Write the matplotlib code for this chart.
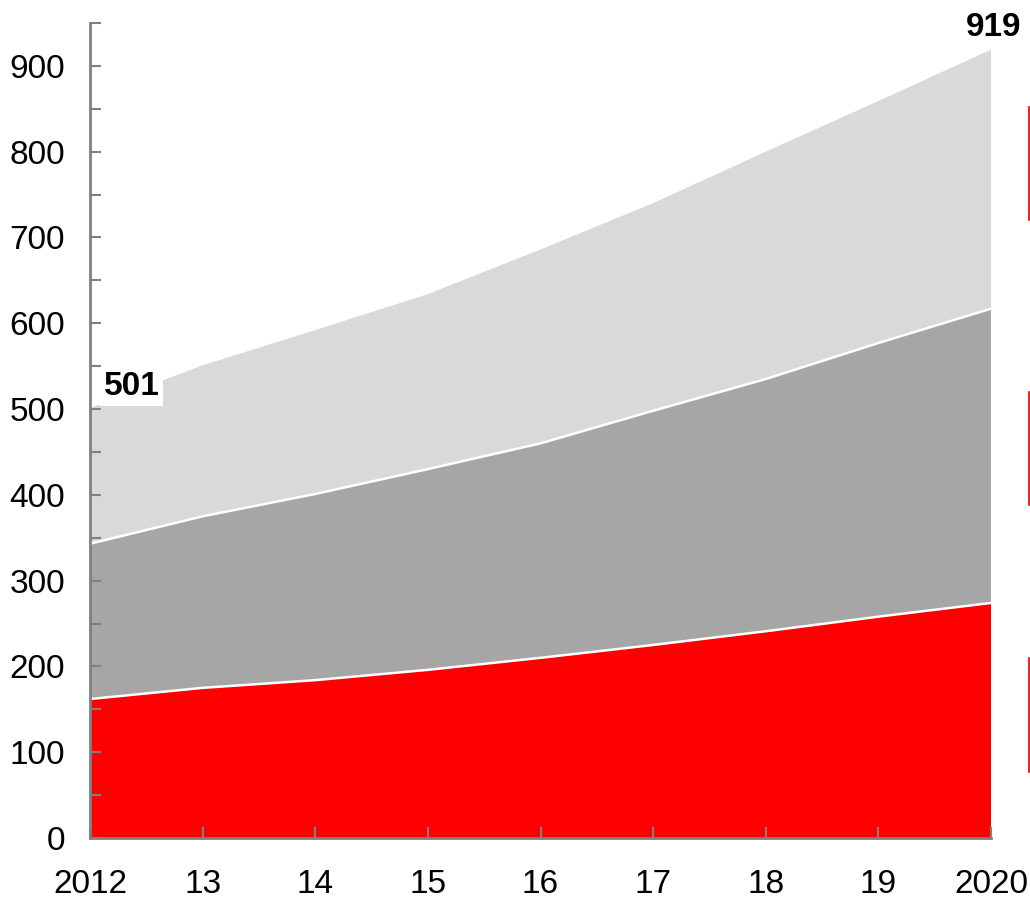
import numpy as np
import matplotlib.pyplot as plt
from matplotlib.lines import Line2D

plt.rcParams['font.family'] = ['Liberation Sans', 'DejaVu Sans']

years = [2012, 2013, 2014, 2015, 2016, 2017, 2018, 2019, 2020]
year_labels = ['2012', '13', '14', '15', '16', '17', '18', '19', '2020']

# cumulative levels
bottom_series = [162, 175, 184, 196, 210, 225, 241, 258, 274]
middle_top = [343, 375, 401, 430, 460, 498, 535, 577, 617]
totals = [501, 551, 592, 634, 686, 740, 800, 859, 919]

red = np.array(bottom_series)
dark = np.array(middle_top) - red
light = np.array(totals) - np.array(middle_top)

fig = plt.figure(figsize=(10.3, 9.02), dpi=100)
ax = fig.add_axes([90 / 1030, 64 / 902, 901 / 1030, 815 / 902])

ax.stackplot(years, red, dark, light,
             colors=['#ff0000', '#a6a6a6', '#d9d9d9'], linewidth=0)

# white separators between layers
ax.plot(years, red, color='white', lw=1.8)
ax.plot(years, red + dark, color='white', lw=1.8)

ax.set_xlim(2012, 2020)
ax.set_ylim(0, 950)
ax.set_xticks(years)
ax.set_xticklabels(year_labels)
ax.set_yticks(range(0, 901, 100))
ax.set_yticks(range(50, 951, 100), minor=True)

for side in ['top', 'right']:
    ax.spines[side].set_visible(False)
for side in ['left', 'bottom']:
    ax.spines[side].set_color('#808080')
    ax.spines[side].set_linewidth(2)

ax.tick_params(axis='both', which='both', direction='in', length=8,
               width=1.5, color='#808080', labelsize=24)
ax.tick_params(axis='y', which='both', pad=18)
ax.tick_params(axis='x', pad=22)

ax.text(2012.12, totals[0] + 25, str(totals[0]), fontsize=24, fontweight='bold',
        ha='left', va='center',
        bbox=dict(facecolor='white', edgecolor='none', pad=3))
ax.text(2020.27, totals[-1] + 8, str(totals[-1]), fontsize=24, fontweight='bold',
        ha='right', va='bottom', clip_on=False)

# legend brackets at the right edge
for y0, y1 in [(107, 220), (392, 505), (658, 772)]:
    fig.add_artist(Line2D([1029 / 1030, 1029 / 1030],
                          [1 - y0 / 902, 1 - y1 / 902],
                          color='#e00000', lw=1.2))

fig.savefig('out.png', dpi=100)
